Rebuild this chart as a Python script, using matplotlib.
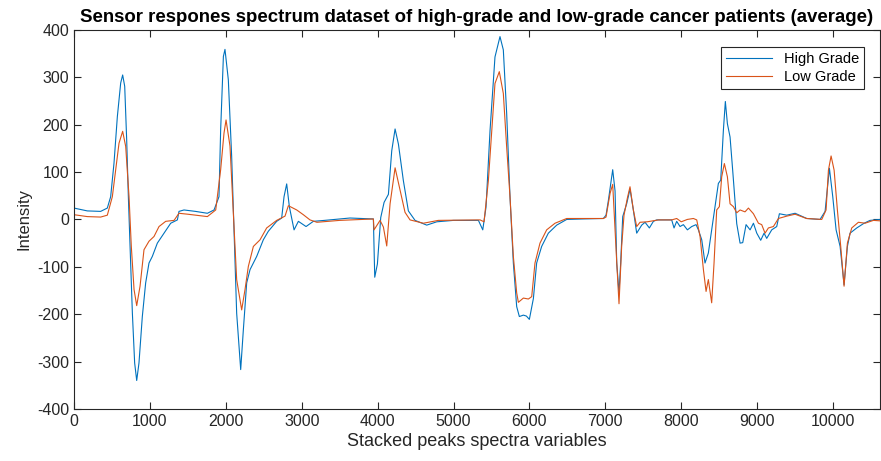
import matplotlib
matplotlib.use("Agg")
import matplotlib.pyplot as plt

# High grade (average)
high_x = [0, 175, 351, 439, 483, 527, 571, 615, 641, 668, 694, 716, 738, 769, 799, 826, 856, 900, 944,
          988, 1032, 1098, 1186, 1274, 1362, 1383, 1449, 1600, 1757, 1845, 1910, 1932, 1968, 1989, 2033,
          2077, 2108, 2143, 2196, 2231, 2275, 2319, 2407, 2494, 2560, 2670, 2736, 2767, 2802, 2837, 2899,
          2956, 3057, 3153, 3300, 3636, 3944, 3962, 3997, 4041, 4085, 4142, 4186, 4230, 4274, 4339, 4405,
          4493, 4647, 4779, 5000, 5328, 5385, 5428, 5481, 5546, 5612, 5656, 5700, 5744, 5788, 5832, 5867,
          5920, 5960, 5999, 6052, 6095, 6161, 6249, 6359, 6491, 6700, 6974, 7009, 7040, 7097, 7128, 7150,
          7180, 7202, 7229, 7281, 7325, 7369, 7413, 7479, 7523, 7580, 7633, 7677, 7874, 7905, 7940, 7984,
          8028, 8081, 8138, 8195, 8226, 8270, 8313, 8357, 8401, 8445, 8489, 8520, 8555, 8581, 8608, 8643,
          8678, 8731, 8775, 8810, 8854, 8907, 8951, 8995, 9047, 9091, 9126, 9192, 9258, 9293, 9390, 9500,
          9654, 9829, 9895, 9952, 9996, 10040, 10093, 10145, 10189, 10224, 10312, 10409, 10488, 10620]
high_y = [24, 18, 17, 24, 48, 119, 217, 288, 305, 281, 168, 48, -57, -198, -303, -340, -303, -205, -134,
          -92, -78, -50, -29, -8, -1, 17, 20, 17, 13, 20, 48, 189, 344, 359, 295,
          133, -22, -198, -317, -233, -134, -106, -78, -43, -25, -4, 3, 48, 75, 27, -22,
          -4, -15, -4, -2, 3, 1, -122, -94, 4, 36, 53, 145, 191, 159, 82, 18,
          -2, -12, -5, -2, -2, -22, 26, 188, 343, 386, 358, 224, 48, -92, -184, -205,
          -202, -204, -211, -167, -92, -57, -29, -12, 0, 1, 2, 9, 40, 105, 60, -92,
          -155, -92, 6, 33, 64, 20, -29, -12, -6, -18, -4, -1, -1, -18, -4, -15,
          -11, -22, -15, -11, -22, -43, -92, -71, -22, 27, 76, 83, 188, 249, 202, 174,
          103, -9, -50, -49, -11, -22, -8, -29, -44, -29, -40, -22, -15, 12, 9, 13,
          2, 0, 17, 108, 48, -22, -57, -138, -57, -29, -18, -8, -2, 0]

# Low grade (average)
low_x = [0, 175, 351, 439, 505, 549, 593, 641, 681, 725, 755, 791, 826, 870, 922, 988, 1054, 1120, 1208,
         1318, 1383, 1500, 1757, 1867, 1932, 1976, 2003, 2055, 2099, 2143, 2209, 2253, 2297, 2363, 2451,
         2538, 2670, 2780, 2824, 2934, 3021, 3109, 3200, 3500, 3944, 3953, 4032, 4076, 4120, 4164, 4230,
         4287, 4361, 4427, 4603, 4800, 5350, 5402, 5459, 5546, 5603, 5656, 5700, 5744, 5788, 5832, 5854,
         5920, 5986, 6030, 6073, 6139, 6227, 6337, 6491, 6700, 6974, 7009, 7062, 7097, 7128, 7150, 7180,
         7215, 7246, 7290, 7325, 7369, 7413, 7457, 7550, 7700, 7874, 7940, 8000, 8080, 8160, 8204, 8248,
         8292, 8327, 8357, 8401, 8432, 8467, 8502, 8533, 8568, 8608, 8643, 8687, 8731, 8775, 8840, 8885,
         8951, 9017, 9060, 9104, 9148, 9214, 9280, 9390, 9500, 9650, 9851, 9908, 9939, 9974, 10014, 10057,
         10101, 10145, 10189, 10246, 10334, 10422, 10532, 10620]
low_y = [10, 6, 5, 9, 48, 105, 161, 186, 154, 48, -57, -148, -182, -141, -64, -46, -36, -15, -4,
         -2, 13, 11, 6, 20, 105, 182, 210, 155, 14, -127, -191, -148, -99, -57, -43,
         -18, -2, 7, 29, 20, 10, -1, -6, -2, 1, -22, -2, -16, -56, 33, 109,
         68, 15, -1, -8, -2, -1, -5, 82, 287, 312, 266, 153, 48, -78, -155, -175,
         -166, -168, -163, -92, -50, -22, -8, 2, 2, 2, 5, 55, 74, -22, -90, -178,
         -57, 9, 45, 69, 20, -15, -6, -5, -1, -1, 2, -5, 0, 2, -1, -36,
         -106, -152, -127, -176, -92, 20, 27, 90, 118, 90, 33, 27, 14, 20, 16, 24,
         12, -8, -11, -29, -18, -15, 2, 7, 11, 2, 0, 20, 104, 134, 104, 20,
         -57, -141, -50, -18, -6, -8, -2, -3]

x_ticks = [0, 1000, 2000, 3000, 4000, 5000, 6000, 7000, 8000, 9000, 10000]
y_ticks = [-400, -300, -200, -100, 0, 100, 200, 300, 400]

plt.rcParams['font.family'] = ['Liberation Sans', 'DejaVu Sans']
plt.rcParams['axes.unicode_minus'] = False

fig = plt.figure(figsize=(8.81, 4.61), dpi=100)
ax = fig.add_axes([0.084, 0.113, 0.915, 0.822])

ax.plot(high_x, high_y, color='#0072BD', lw=0.8, label='High Grade')
ax.plot(low_x, low_y, color='#D95319', lw=0.8, label='Low Grade')

ax.set_xlim(0, 10620)
ax.set_ylim(-400, 400)
ax.set_xticks(x_ticks)
ax.set_yticks(y_ticks)
ax.tick_params(direction='in', length=5, width=0.8, labelsize=11.5, colors='#262626',
               top=True, right=True)
for s in ax.spines.values():
    s.set_color('#262626')
    s.set_linewidth(0.8)

ax.set_xlabel('Stacked peaks spectra variables', fontsize=13, color='#262626', labelpad=3)
ax.set_ylabel('Intensity', fontsize=12, color='#262626')
ax.set_title('Sensor respones spectrum dataset of high-grade and low-grade cancer patients (average)',
             fontsize=13.4, fontweight='bold', pad=6)

leg = ax.legend(loc='upper right', fontsize=10.5, fancybox=False, framealpha=1,
                edgecolor='#262626', borderpad=0.35, handlelength=3.2, labelspacing=0.3,
                bbox_to_anchor=(0.9895, 0.975))
leg.get_frame().set_linewidth(0.8)

fig.savefig('out.png', dpi=100)
